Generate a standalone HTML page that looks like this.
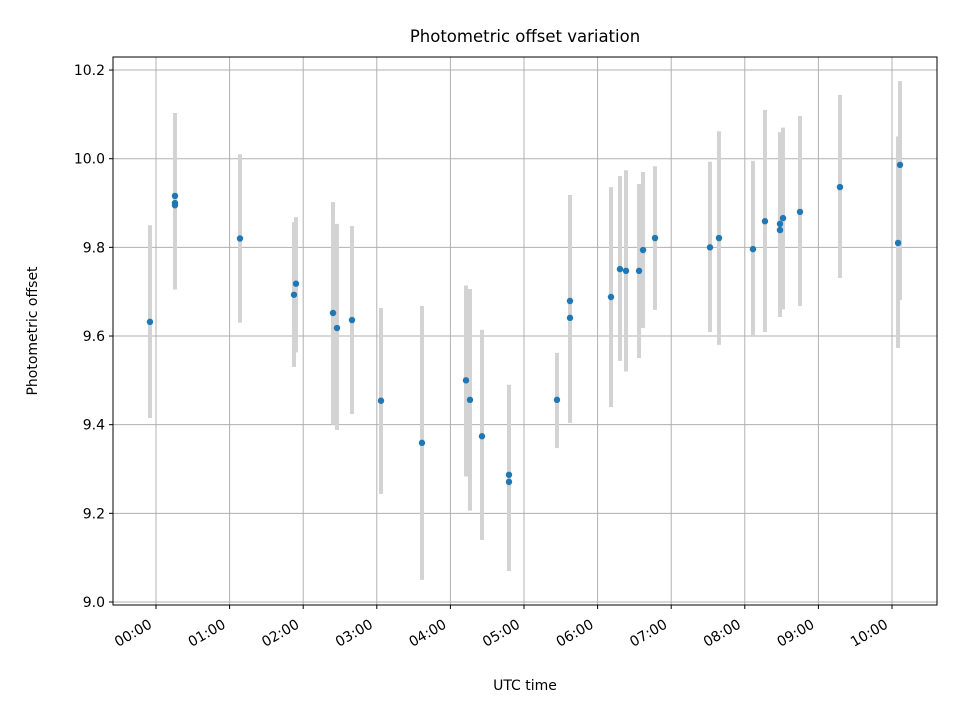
<!DOCTYPE html>
<html><head><meta charset="utf-8"><style>
body{margin:0;background:#fff;font-family:"Liberation Sans","DejaVu Sans",sans-serif}
svg text{font-family:"DejaVu Sans","Liberation Sans",sans-serif;fill:#000}
</style></head><body>
<svg id="chart" width="960" height="720" xmlns="http://www.w3.org/2000/svg">
<rect width="960" height="720" fill="#fff"/>
<text x="525" y="42" text-anchor="middle" font-size="16.5">Photometric offset variation</text>
<g id="grid"></g><g id="bars"></g><g id="pts"></g><g id="ticks"></g>
<rect x="113" y="57" width="824" height="548" fill="none" stroke="#000" stroke-width="1"/>
<text x="525" y="690" text-anchor="middle" font-size="14">UTC time</text>
<text transform="translate(37,331) rotate(-90)" text-anchor="middle" font-size="14">Photometric offset</text>
</svg>
<script>
const times=[-0.082,0.258,0.258,0.258,1.141,1.875,1.902,2.405,2.459,2.663,3.057,3.614,4.212,4.266,4.429,4.796,4.796,5.448,5.625,5.625,6.182,6.304,6.386,6.563,6.617,6.780,7.527,7.649,8.111,8.274,8.478,8.478,8.519,8.750,9.293,10.082,10.109];
const values=[9.632,9.916,9.900,9.895,9.820,9.693,9.718,9.652,9.618,9.636,9.454,9.359,9.500,9.456,9.374,9.271,9.287,9.456,9.679,9.641,9.688,9.751,9.747,9.747,9.794,9.821,9.800,9.821,9.796,9.859,9.839,9.853,9.866,9.880,9.936,9.810,9.986];
const lowers=[9.415,9.705,9.715,9.705,9.630,9.530,9.563,9.400,9.388,9.424,9.244,9.050,9.283,9.206,9.140,9.070,9.090,9.347,9.404,9.410,9.440,9.544,9.520,9.550,9.618,9.659,9.609,9.580,9.598,9.609,9.650,9.643,9.660,9.668,9.731,9.573,9.681];
const uppers=[9.850,10.103,10.090,10.103,10.010,9.857,9.868,9.902,9.853,9.848,9.663,9.668,9.714,9.706,9.614,9.480,9.490,9.562,9.880,9.918,9.936,9.961,9.974,9.943,9.970,9.983,9.993,10.062,9.995,10.110,10.040,10.060,10.070,10.096,10.144,10.050,10.175];
const yTicks=[9.0,9.2,9.4,9.6,9.8,10.0,10.2];
const xTicks=[0,1,2,3,4,5,6,7,8,9,10];
const xLabels=["00:00","01:00","02:00","03:00","04:00","05:00","06:00","07:00","08:00","09:00","10:00"];
const NS="http://www.w3.org/2000/svg";
const xs=h=>156+h*73.6;
const ys=v=>602-(v-9.0)*443.3;
function mk(tag,attrs,parent){const e=document.createElementNS(NS,tag);for(const k in attrs)e.setAttribute(k,attrs[k]);document.getElementById(parent).appendChild(e);return e;}
yTicks.forEach(t=>{
 const y=ys(t);
 const g=mk('line',{x1:113,x2:937,y1:y,y2:y,stroke:'#b0b0b0','stroke-width':1},'grid');
 
 
 mk('line',{x1:109,x2:113,y1:y,y2:y,stroke:'#000'},'ticks');
 const tx=mk('text',{x:105,y:y+5,'text-anchor':'end','font-size':'14'},'ticks');
 tx.textContent=t.toFixed(1);
 
 
});
xTicks.forEach((t,i)=>{
 const x=xs(t);
 const g=mk('line',{x1:x,x2:x,y1:57,y2:605,stroke:'#b0b0b0','stroke-width':1},'grid');
 
 
 mk('line',{x1:x,x2:x,y1:605,y2:609,stroke:'#000'},'ticks');
 const tx=mk('text',{transform:`translate(${x-3},${627}) rotate(-30)`,'text-anchor':'end','font-size':'14'},'ticks');
 tx.textContent=xLabels[i];
 
 
});
times.forEach((t,i)=>{
 const x=xs(t);
 const b=mk('line',{x1:x,x2:x,y1:ys(uppers[i]),y2:ys(lowers[i]),stroke:'#d3d3d3','stroke-width':4},'bars');
 
 
 const c=mk('circle',{cx:x,cy:ys(values[i]),r:3.2,fill:'#1f77b4'},'pts');
 
 
});
</script>
</body></html>
